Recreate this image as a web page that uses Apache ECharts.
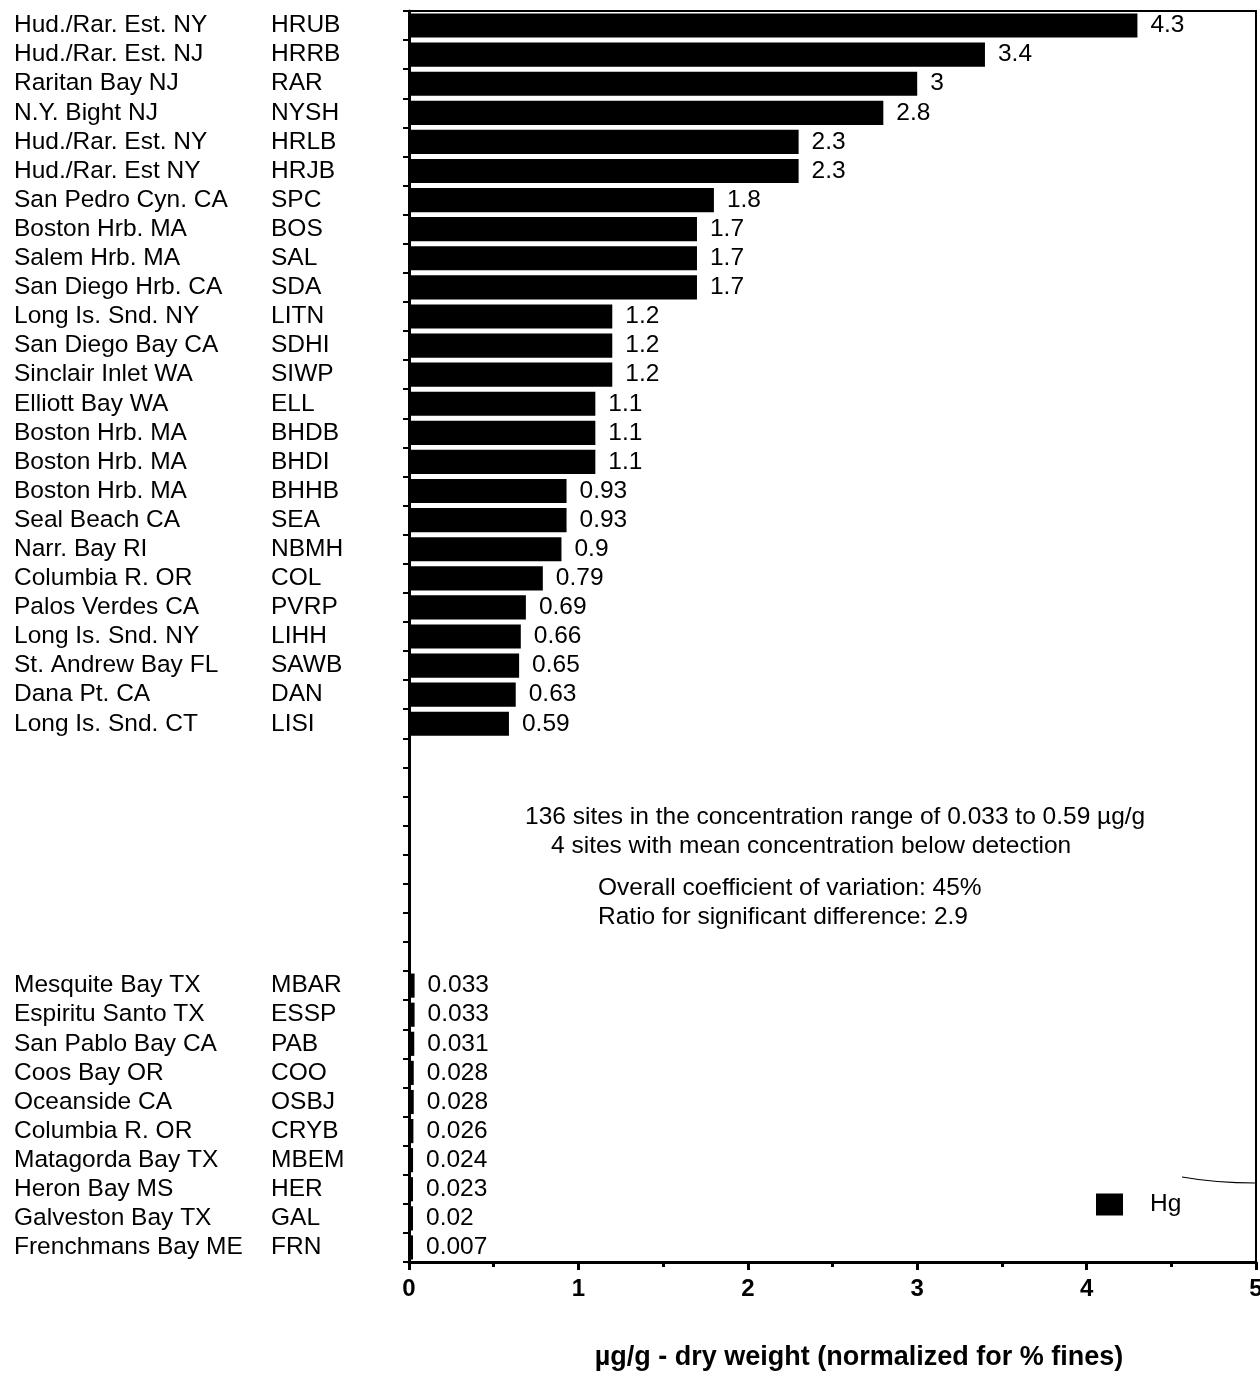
<!DOCTYPE html>
<html>
<head>
<meta charset="utf-8">
<style>
  html, body { margin: 0; padding: 0; background: #fff; }
  #chart { width: 1260px; height: 1373px; }
</style>
<script src="https://cdn.jsdelivr.net/npm/echarts@6/dist/echarts.min.js"></script>
</head>
<body>
<div id="chart"></div>
<script>
// Site names, station codes and Hg concentrations (µg/g dry weight).
// Empty strings / null mark the blank rows separating the highest and lowest sites.
const siteNames = [
  'Hud./Rar. Est. NY', 'Hud./Rar. Est. NJ', 'Raritan Bay NJ', 'N.Y. Bight NJ',
  'Hud./Rar. Est. NY', 'Hud./Rar. Est NY', 'San Pedro Cyn. CA', 'Boston Hrb. MA',
  'Salem Hrb. MA', 'San Diego Hrb. CA', 'Long Is. Snd. NY', 'San Diego Bay CA',
  'Sinclair Inlet WA', 'Elliott Bay WA', 'Boston Hrb. MA', 'Boston Hrb. MA',
  'Boston Hrb. MA', 'Seal Beach CA', 'Narr. Bay RI', 'Columbia R. OR',
  'Palos Verdes CA', 'Long Is. Snd. NY', 'St. Andrew Bay FL', 'Dana Pt. CA',
  'Long Is. Snd. CT',
  '', '', '', '', '', '', '', '',
  'Mesquite Bay TX', 'Espiritu Santo TX', 'San Pablo Bay CA', 'Coos Bay OR',
  'Oceanside CA', 'Columbia R. OR', 'Matagorda Bay TX', 'Heron Bay MS',
  'Galveston Bay TX', 'Frenchmans Bay ME'
];
const siteCodes = [
  'HRUB', 'HRRB', 'RAR', 'NYSH', 'HRLB', 'HRJB', 'SPC', 'BOS', 'SAL', 'SDA',
  'LITN', 'SDHI', 'SIWP', 'ELL', 'BHDB', 'BHDI', 'BHHB', 'SEA', 'NBMH', 'COL',
  'PVRP', 'LIHH', 'SAWB', 'DAN', 'LISI',
  '', '', '', '', '', '', '', '',
  'MBAR', 'ESSP', 'PAB', 'COO', 'OSBJ', 'CRYB', 'MBEM', 'HER', 'GAL', 'FRN'
];
const hgValues = [
  4.3, 3.4, 3, 2.8, 2.3, 2.3, 1.8, 1.7, 1.7, 1.7,
  1.2, 1.2, 1.2, 1.1, 1.1, 1.1, 0.93, 0.93, 0.9, 0.79,
  0.69, 0.66, 0.65, 0.63, 0.59,
  null, null, null, null, null, null, null, null,
  0.033, 0.033, 0.031, 0.028, 0.028, 0.026, 0.024, 0.023, 0.02, 0.007
];
const xTicks = [0, 5, 1];  // min, max, interval
const noteLines = [
  '136 sites in the concentration range of 0.033 to 0.59 \u00b5g/g',
  '4 sites with mean concentration below detection',
  'Overall coefficient of variation: 45%',
  'Ratio for significant difference: 2.9'
];
const axisTitle = '\u00b5g/g - dry weight (normalized for % fines)';

const FONT = '"Liberation Sans", Arial, Helvetica, sans-serif';
const FS = 24.5;
const rowIds = siteNames.map((_, i) => String(i));

const chart = echarts.init(document.getElementById('chart'), null, { renderer: 'canvas' });

function note(text, left, cy) {
  return {
    type: 'text', x: left, y: cy,
    style: { text, font: FS + 'px ' + FONT, fill: '#000', align: 'left', verticalAlign: 'middle' }
  };
}

chart.setOption({
  backgroundColor: '#ffffff',
  animation: false,
  textStyle: { fontFamily: FONT, color: '#000' },
  grid: {
    left: 409, right: 4, top: 11, bottom: 111,
    show: true, borderColor: '#000', borderWidth: 2,
    containLabel: false, outerBoundsMode: 'none'
  },
  legend: {
    data: ['Hg'],
    left: 1096, top: 1192, padding: 0,
    icon: 'rect', itemWidth: 27, itemHeight: 22,
    textStyle: { fontFamily: FONT, fontSize: FS, color: '#000', padding: [0, 0, 0, 22] },
    selectedMode: false
  },
  xAxis: {
    type: 'value',
    min: xTicks[0], max: xTicks[1], interval: xTicks[2],
    axisLine: { show: true, lineStyle: { color: '#000', width: 3 } },
    axisTick: { show: true, length: 8, lineStyle: { color: '#000', width: 3 } },
    minorTick: { show: true, splitNumber: 2, length: 5, lineStyle: { color: '#000', width: 3 } },
    splitLine: { show: false },
    axisLabel: {
      fontFamily: FONT, fontSize: 24, fontWeight: 'bold', color: '#000', margin: 15
    }
  },
  yAxis: {
    type: 'category',
    inverse: true,
    data: rowIds,
    axisLine: { show: true, lineStyle: { color: '#000', width: 3 } },
    axisTick: { show: true, interval: 0, length: 6, lineStyle: { color: '#000', width: 2 } },
    splitLine: { show: false },
    axisLabel: {
      interval: 0,
      align: 'left',
      margin: 395,
      formatter: (v) => {
        const idx = Number(v);
        if (!siteNames[idx]) return '';
        return '{n|' + siteNames[idx] + '}{c|' + siteCodes[idx] + '}';
      },
      rich: {
        n: { fontFamily: FONT, fontSize: FS, color: '#000', width: 257 },
        c: { fontFamily: FONT, fontSize: FS, color: '#000' }
      }
    }
  },
  series: [{
    name: 'Hg',
    type: 'bar',
    data: hgValues,
    barCategoryGap: '17%',
    barMinHeight: 4,
    itemStyle: { color: '#000' },
    label: {
      show: true,
      position: 'right',
      distance: 13,
      fontFamily: FONT, fontSize: FS, color: '#000',
      formatter: p => (p.value == null ? '' : String(p.value))
    }
  }],
  graphic: [
    note(noteLines[0], 525, 817),
    note(noteLines[1], 551, 846),
    note(noteLines[2], 598, 888),
    note(noteLines[3], 598, 917),
    {
      type: 'text', x: 859, y: 1358,
      style: { text: axisTitle, font: 'bold 27px ' + FONT, fill: '#000', align: 'center', verticalAlign: 'middle' }
    },
    {
      type: 'bezierCurve',
      shape: { x1: 1182, y1: 1177, cpx1: 1210, cpy1: 1182, cpx2: 1235, cpy2: 1183, x2: 1256, y2: 1183 },
      style: { stroke: '#000', lineWidth: 1.2, fill: null }
    }
  ]
});
</script>
</body>
</html>
